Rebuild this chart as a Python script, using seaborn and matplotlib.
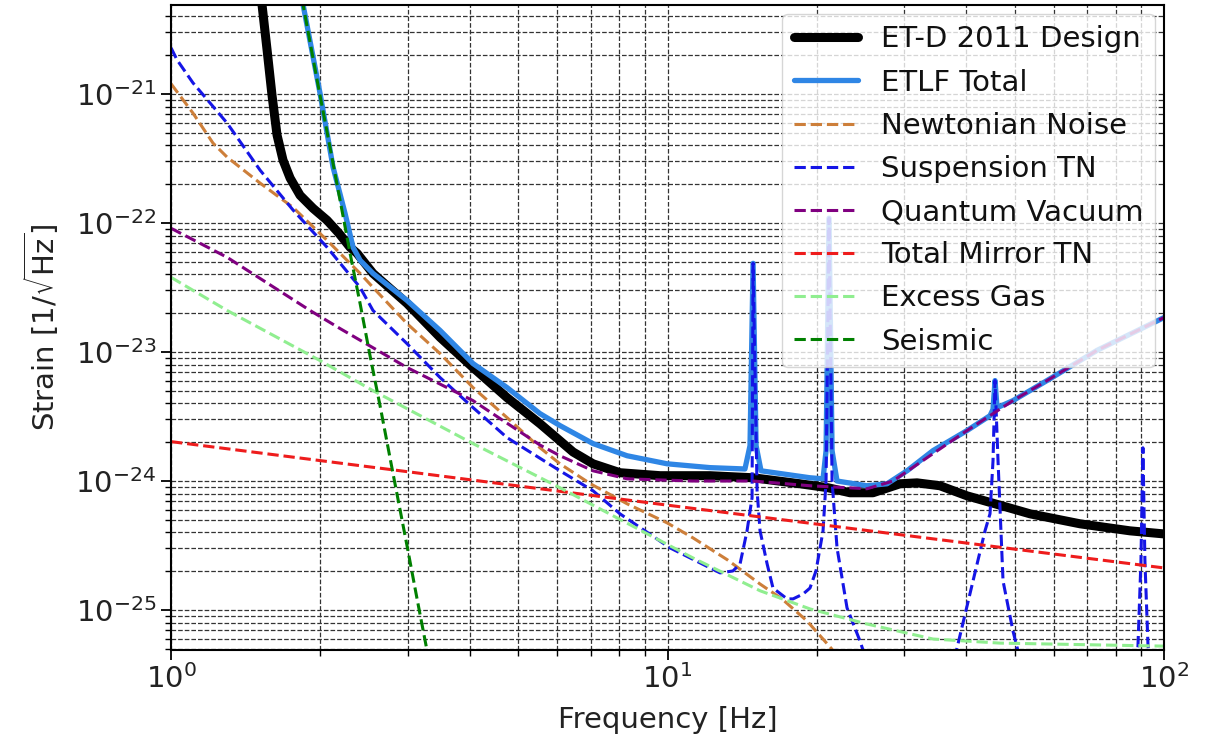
import numpy as np
import pandas as pd
import seaborn as sns
import matplotlib
matplotlib.use("Agg")
import matplotlib.pyplot as plt
from matplotlib.ticker import NullFormatter

# ---------------- data ----------------
etd_f = [1.50, 1.525, 1.561, 1.597, 1.635, 1.681, 1.737, 1.819, 1.932, 2.062, 2.180, 2.294, 2.370,
         2.551, 2.988, 3.482, 4.057, 4.751, 5.536, 6.073, 6.451, 7.080, 8.02, 9.66, 12.18, 14.87,
         18.49, 21.05, 23.31, 25.93, 29.40, 31.81, 35.38, 40.10, 45.67, 53.71, 67.75, 85.41, 100.0]
etd_h = [8.0e-21, 4.91e-21, 2.20e-21, 9.82e-22, 4.80e-22, 3.07e-22, 2.23e-22, 1.64e-22, 1.30e-22,
         1.05e-22, 8.3e-23, 6.48e-23, 5.82e-23, 4.07e-23, 2.38e-23, 1.30e-23, 7.58e-24, 4.43e-24,
         2.78e-24, 2.05e-24, 1.68e-24, 1.36e-24, 1.16e-24, 1.10e-24, 1.10e-24, 1.06e-24, 9.52e-25,
         8.87e-25, 8.11e-25, 8.11e-25, 9.52e-25, 9.68e-25, 9.19e-25, 7.68e-25, 6.66e-25, 5.57e-25,
         4.66e-25, 4.11e-25, 3.89e-25]

etlf_f = [1.80, 1.845, 1.995, 2.120, 2.241, 2.326, 2.403, 2.551, 2.988, 3.482, 4.057, 4.751, 5.536,
          6.073, 7.080, 8.29, 9.98, 12.18, 14.32, 14.66, 14.87, 15.08, 15.43, 19.36, 20.57, 20.86,
          21.15, 21.45, 21.95, 25.22, 27.68, 30.37, 34.25, 40.10, 44.62, 45.25, 45.67, 46.10, 49.64,
          58.14, 73.31, 100.0]
etlf_h = [9.0e-21, 4.91e-21, 1.02e-21, 2.71e-22, 1.19e-22, 6.48e-23, 5.14e-23, 4.07e-23, 2.51e-23,
          1.47e-23, 8.14e-24, 5.30e-24, 3.33e-24, 2.69e-24, 1.95e-24, 1.57e-24, 1.36e-24, 1.27e-24,
          1.24e-24, 1.88e-24, 4.87e-23, 1.88e-24, 1.20e-24, 1.06e-24, 1.04e-24, 1.72e-24, 1.09e-22,
          1.72e-24, 1.00e-24, 9.19e-25, 9.52e-25, 1.20e-24, 1.72e-24, 2.46e-24, 3.21e-24, 3.60e-24,
          6.01e-24, 3.70e-24, 4.20e-24, 6.01e-24, 1.03e-23, 1.85e-23]

newt_f = [1.0, 1.107, 1.215, 1.297, 1.511, 1.761, 2.062, 2.403, 2.551, 2.988, 3.482, 4.057, 4.751,
          5.536, 6.073, 7.0, 8.29, 9.98, 11.26, 13.2, 15.36, 17.0, 19.10, 21.6, 24.0]
newt_h = [1.20e-21, 7.11e-22, 4.16e-22, 3.24e-22, 2.04e-22, 1.32e-22, 7.34e-23, 4.07e-23, 3.17e-23,
          1.66e-23, 9.73e-24, 5.30e-24, 3.10e-24, 1.81e-24, 1.36e-24, 9.5e-25, 6.66e-25, 4.74e-25,
          3.62e-25, 2.45e-25, 1.59e-25, 1.22e-25, 8.22e-26, 4.81e-26, 3.0e-26]

susp_f = [1.0, 1.028, 1.107, 1.297, 1.511, 1.761, 2.062, 2.403, 2.551, 2.988, 3.482, 4.057, 4.751,
          6.073, 7.080, 8.02, 10.12, 12.76, 13.55, 14.00, 14.46, 14.80, 14.87, 15.15, 15.36, 15.87,
          16.31, 17.41, 17.90, 18.75, 19.36, 19.91, 20.57, 20.86, 21.15, 21.45, 21.95, 22.99, 24.42,
          25.58, 30.7, 35.38, 37.94, 38.29, 41.24, 43.60, 44.62, 45.25, 45.67, 46.31, 47.40, 49.64,
          50.81, 52.48, 67.75, 87.40, 88.62, 89.86, 90.69, 91.53, 92.86, 94.15, 100.0]
susp_h = [2.28e-21, 1.84e-21, 1.22e-21, 5.95e-22, 2.57e-22, 1.26e-22, 6.48e-23, 3.17e-23, 2.10e-23,
          1.16e-23, 6.34e-24, 3.71e-24, 2.17e-24, 1.20e-24, 8.40e-25, 5.57e-25, 3.03e-25, 1.94e-25,
          2.01e-25, 2.28e-25, 4.11e-25, 7.41e-25, 4.87e-23, 8.40e-25, 4.11e-25, 2.28e-25, 1.48e-25,
          1.22e-25, 1.22e-25, 1.33e-25, 1.48e-25, 2.01e-25, 4.11e-25, 1.00e-24, 1.09e-22, 1.00e-24,
          3.03e-25, 1.04e-25, 5.74e-26, 3.36e-26, 1.5e-26, 2.4e-26, 4.40e-26, 5.07e-26, 1.68e-25,
          4.11e-25, 5.57e-25, 1.44e-24, 6.01e-24, 1.44e-24, 1.68e-25, 6.87e-26, 4.81e-26, 2.81e-26,
          1.0e-26, 3.36e-26, 5.25e-26, 2.40e-25, 1.81e-24, 2.40e-25, 5.25e-26, 3.36e-26, 2.0e-26]

quant_f = [1.0, 1.297, 1.905, 2.190, 2.988, 4.057, 5.536, 6.073, 7.080, 8.29, 11.26, 14.87, 19.36,
           25.22, 28.46, 34.25, 40.10, 45.25, 49.64, 58.14, 73.31, 100.0]
quant_h = [9.10e-23, 5.42e-23, 2.10e-23, 1.52e-23, 7.58e-24, 4.20e-24, 1.90e-24, 1.57e-24, 1.20e-24,
           1.04e-24, 1.00e-24, 1.00e-24, 9.19e-25, 8.71e-25, 1.00e-24, 1.63e-24, 2.46e-24, 3.33e-24,
           4.20e-24, 6.01e-24, 1.03e-23, 1.85e-23]

mirror_f = [1.0, 3.0, 10.0, 30.0, 100.0]
mirror_h = [2.02e-24, 1.18e-24, 6.5e-25, 3.8e-25, 2.12e-25]

gas_f = [1.0, 1.297, 1.995, 2.551, 4.057, 6.073, 11.26, 15.36, 19.36, 25.22, 34.25, 46.74, 100.0]
gas_h = [3.79e-23, 2.10e-23, 8.59e-24, 5.02e-24, 1.95e-24, 8.87e-25, 2.53e-25, 1.41e-25, 1.02e-25,
         7.79e-26, 5.96e-26, 5.54e-26, 5.25e-26]

seis_f = [1.80, 1.845, 1.968, 2.062, 2.190, 2.294, 2.403, 2.516, 2.636, 2.800, 2.988, 3.130, 3.324]
seis_h = [9.0e-21, 4.91e-21, 1.29e-21, 5.07e-22, 1.50e-22, 5.82e-23, 2.38e-23, 9.40e-24, 3.84e-24,
          1.14e-24, 3.14e-25, 1.22e-25, 3.67e-26]

x_ticks = [1, 10, 100]
y_ticks = [1e-25, 1e-24, 1e-23, 1e-22, 1e-21]

# ---------------- style ----------------
sns.set_theme(style="ticks")
plt.rcParams["font.family"] = ["DejaVu Sans"]
plt.rcParams["mathtext.fontset"] = "dejavusans"

fig = plt.figure(figsize=(12.2, 7.42), dpi=100)
ax = fig.add_axes([0.1402, 0.1240, 0.8139, 0.8693])

series = [
    ("ET-D 2011 Design", etd_f, etd_h, "black", "-", 6.5),
    ("ETLF Total", etlf_f, etlf_h, "#2f86e5", "-", 3.8),
    ("Newtonian Noise", newt_f, newt_h, "#cd7f3a", "--", 2.2),
    ("Suspension TN", susp_f, susp_h, "#1515e6", "--", 2.2),
    ("Quantum Vacuum", quant_f, quant_h, "purple", "--", 2.2),
    ("Total Mirror TN", mirror_f, mirror_h, "#ee1c1c", "--", 2.2),
    ("Excess Gas", gas_f, gas_h, "lightgreen", "--", 2.2),
    ("Seismic", seis_f, seis_h, "green", "--", 2.2),
]

for label, f, h, color, ls, lw in series:
    df = pd.DataFrame({"f": f, "h": h})
    sns.lineplot(data=df, x="f", y="h", ax=ax, color=color, linestyle=ls, linewidth=lw,
                 label=label, estimator=None, sort=False)

ax.set_xscale("log")
ax.set_yscale("log")
ax.set_xticks(x_ticks)
ax.set_yticks(y_ticks)
ax.set_xlim(1, 100)
ax.set_ylim(4.9e-26, 4.9e-21)
ax.xaxis.set_minor_formatter(NullFormatter())
ax.yaxis.set_minor_formatter(NullFormatter())
ax.set_axisbelow(True)
ax.grid(True, which="both", color="0.2", linestyle="--", linewidth=0.9)

for sp in ax.spines.values():
    sp.set_color("black")
    sp.set_linewidth(1.5)
ax.tick_params(axis="both", which="major", labelsize=21, length=7, width=1.3, colors="black")
ax.tick_params(axis="both", which="minor", length=4, width=1.0, colors="black")
for t in ax.get_xticklabels() + ax.get_yticklabels():
    t.set_color("#222222")

ax.set_xlabel("Frequency [Hz]", fontsize=21, color="#222222", labelpad=8)
ax.set_ylabel(r"Strain [1/$\sqrt{\mathrm{Hz}}$]", fontsize=21, color="#222222", labelpad=10)

leg = ax.legend(loc="upper right", fontsize=21, borderaxespad=0.3, handlelength=2.2,
                labelspacing=0.52, framealpha=0.8, fancybox=True)
for t in leg.get_texts():
    t.set_color("#111111")

fig.savefig("out.png", dpi=100)
